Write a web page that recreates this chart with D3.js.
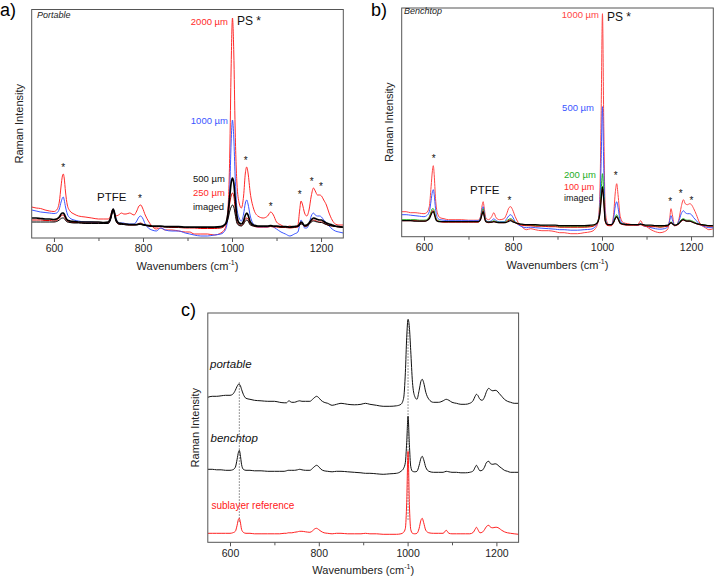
<!DOCTYPE html>
<html><head><meta charset="utf-8">
<script src="https://cdn.jsdelivr.net/npm/d3@7"></script>
<style>
body{margin:0;background:#fff}
svg{display:block}
text{font-family:Arial,"Liberation Sans",Helvetica,sans-serif}
</style>
</head><body>
<svg id="chart" width="715" height="581"></svg>
<script>
// ---------- shared wavenumber grid (cm-1) ----------
const wavenumbers = [
 550,560,570,580,590,600,606,612,616,619,
 621,623,626,630,636,645,655,670,685,700,
 712,722,727,731,733,735,739,745,752,757,
 762,770,780,786,791,795,799,805,812,820,
 830,840,850,865,880,895,905,915,930,945,
 960,975,985,991,995,998,1001,1004,1007,1011,
 1016,1021,1026,1030,1033,1036,1041,1048,1058,1070,
 1080,1087,1093,1100,1110,1120,1130,1140,1148,1152,
 1155,1158,1163,1168,1173,1178,1183,1187,1192,1197,
 1201,1206,1212,1218,1225,1232,1240,1250];

// ---------- panel a: portable ----------
const portable2000 = [
 31,30,29.5,28,27,26.5,28,36,52,62,
 64,60,46,33,27,24,22,21,20,19,
 19,19,22,28,29,27,22,23,25,24,
 24,25,23,27,32,33,30,23,17,12,
 9,10,8,8,7,6,6,4,4,4,
 3,5,10,30,85,170,220,185,110,55,
 35,30,42,65,71,65,45,30,22,20,
 22,26,23,16,13,11,12,11,13,28,
 37,34,25,22,28,42,50,47,43,43,
 42,38,33,25,18,14,13,13];
const portable1000 = [
 28,27,26,25.5,25,24.5,25,29,36,40,
 41,38,31,24,20,18,17,16,16,15,
 15,15,19,27,29,27,20,15,15,15,
 14,14,14,17,21,22,20,14,10,8,
 7,10,8,7,7,5,4,3,2,2,
 3,4,8,22,50,95,118,100,62,30,
 20,17,24,35,38,34,22,14,11,11,
 11,12,11,9,6,4,2,4,6,13,
 18,16,10,10,14,22,25,23,22,22,
 21,18,15,12,9,7,6,5];
const portable500 = [
 20,20,19.5,19,19,18.5,19,21,24,25,
 25,24,21,18,17,16.5,16,16,16,16,
 15.5,16,20,27,29,27,19,15,14.5,14,
 14,13.5,13.5,13.5,14,14,13.5,13,12.5,12,
 12,12,11.5,11.5,11.5,11,11,11,11,11,
 11,11.5,14,25,42,55,60,55,40,22,
 15,14,17,23,25,23,16,13,12,12,
 12,12.5,12,12,11.5,11.5,11,11.5,12,14,
 16,15,12.5,13,15,18,20,19.5,18.5,18,
 18,16.5,15,14,13,12,11.5,11];
const portable250 = [
 18,18,18,17.5,17.5,17,17.5,20,22,23,
 23,22,19,17,16,15.5,15.5,15,15,15,
 15,15,19,26,28,26,18,14,14,14,
 13.5,13,13,13.5,14.5,15,14,13,12,11.5,
 11,11.5,11,10.5,10.5,10,10,10,9.5,9.5,
 9.5,10,13,22,35,42,45,42,30,17,
 13,12.5,15,19,20,19,14,12,11,11,
 11,11.5,11,11,10.5,10.5,10,10.5,11,13,
 15,14,11.5,12,14,17,18,17.5,16.5,16,
 16,15,13.5,12.5,12,11.5,11,10.5];
const portableImaged = [
 16,16,16,16,16,16,16.5,18,19.5,20,
 20,19.5,17.5,16,15.5,15,15,14.5,14.5,14.5,
 14.5,14.5,18,25,27,25,17,14,13.5,13.5,
 13,13,13,13,13.5,13.5,13,12.5,12,11.5,
 11.5,11.5,11,11,11,10.5,10.5,10.5,10.5,10.5,
 10.5,11,13,19,27,31,33,31,24,15,
 12.5,12,14,17,18,17,13,12,11.5,11.5,
 11.5,12,11.5,11.5,11,11,10.5,11,11.5,13,
 14,13.5,12,12,13.5,16,17,16.5,16,15.5,
 15.5,14.5,13.5,12.5,12,11.5,11,10.5];

// ---------- panel b: benchtop ----------
const benchtop1000 = [
 25,25,24,24,23.5,23,24,30,50,66,
 71,62,38,24,19,18,17,17,17,16.5,
 16.5,16.5,20,32,35,30,19,17,20,24,
 19,17,18,23,29,30,27,20,14,10,
 7,8,7,6,6,5,4,4,3,3,
 4,5,8,15,40,120,223,110,30,15,
 12,12,22,45,53,42,20,14,13,12,
 12,16,11,10,7,5,4,5,8,18,
 28,22,11,12,18,30,37,33,32,33,
 32,28,22,15,11,9,7,8];
const benchtop500 = [
 22,22,21.5,21,20.5,20,21,25,36,45,
 47,42,28,19,17,16.5,16,16,16,16,
 16,16,19,28,30,26,17,15,16,18,
 16,15,15,18,21,22,20,15,12,10,
 9,9.5,9,8.5,8,7.5,7,7,6.5,6.5,
 7,7.5,10,16,30,75,130,68,22,13,
 12,12,18,31,35,29,16,13,12,12,
 11.5,13,11,10.5,9,8,7.5,8,10,16,
 21,17,11,12,16,23,26,24,23,23,
 22,19,16,13,11,10,9,9];
const benchtop200 = [
 17,17,17,17,16.5,16.5,17,20,25,28,
 28,26,20,16.5,15.5,15,15,15,15,15,
 15,15,18,26,28,24,16,14.5,15,16,
 15,14.5,14.5,16,17.5,18,17,14.5,13,12,
 11.5,11.5,11,11,10.5,10.5,10,10,10,10,
 10,10.5,12,16,26,45,63,42,18,12.5,
 12,12,15,20,22,19.5,14,12.5,12,12,
 12,12.5,11.5,11,10.5,10.5,10,10.5,11,13,
 15,13.5,11.5,12,14,17,18,17,16.5,16.5,
 16,15,13.5,12.5,12,11.5,11,11];
const benchtop100 = [
 16,16,16,16,15.5,15.5,16,19,23,26,
 26,24,19,16,15,14.5,14.5,14.5,14.5,14.5,
 14.5,14.5,17,24,26,22,15,14,14.5,15,
 14.5,14,14,15,16.5,17,16,14,12.5,11.5,
 11,11,10.5,10.5,10,10,9.5,9.5,9.5,9.5,
 9.5,10,11.5,15,24,38,48,36,16,11.5,
 11,11,14,18.5,20,18,13,12,11.5,11.5,
 11.5,12,11,10.5,10,10,9.5,10,10.5,12.5,
 14,13,11,11.5,13,15.5,16.5,16,15.5,15.5,
 15,14,13,12,11.5,11,10.5,10.5];
const benchtopImaged = [
 16,16,16,15.5,15.5,15.5,16,18,22,24.5,
 25,23,18,15.5,15,15,15,15,15,15,
 15,15,17,23,25,21,15,14.5,14.5,15,
 14.5,14,14,14.5,15.5,16,15,14,13,12.5,
 12,12,12,11.5,11.5,11.5,11,11,11,11,
 11,11.5,12.5,15,22,36,50,35,16,12.5,
 12,12,14.5,18.5,20,18,13.5,12.5,12,12,
 12,12.5,12,11.5,11.5,11,11,11,11.5,13,
 14,13,11.5,12,13.5,16,17,16,15.5,15.5,
 15,14,13,12.5,12,11.5,11,11];

// ---------- panel c: comparison (offset spectra) ----------
const cPortable = [
 145,146,146,146.5,147,147,148,152,156,158,
 158,157,153,148,144,143,142,141.5,141,141,
 140,139.5,139.5,141,141.5,141,140,140,141,141.5,
 141,141,141,143,145,146,145,142,140,139,
 137,138,139,138,137.5,138,139,138,137,136,
 136,136.5,138,144,170,205,223,215,192,160,
 146,143,152,161,163,160,150,143,140,140,
 141.5,143,142,140,139,138,138,139,142,146,
 148,147,143,142,145,151,154,152.5,151.5,152,
 151.5,149,146,143,141,140,139,139];
const cBenchtop = [
 73,73,72.5,72.5,72,72,72.5,75,83,90,
 92,88,78,73,72,72,71.5,71.5,71,71,
 71,71,71.5,72,72,72,72,72,72.5,73,
 72.5,72,72,74,76,77,76,73,71.5,71,
 70.5,71,71,70.5,70,69.5,69,69,68.5,68,
 68.5,69,71,74,80,100,126,98,76,71,
 70.5,71,77,84,86,83,75,71,70,70,
 70,71,70.5,70,70,69.5,69.5,70,71.5,75,
 77,75,71.5,72,75,80,81,78.5,78,78.5,
 78,76,74,72,71,70,70,70];
const cSublayer = [
 9,9,9,9,9,9,9.5,11,17,23,
 24,21,13,10,9,9,8.5,8.5,8.5,8.5,
 8.5,9,9,9.5,9.5,9.5,9.5,10,10.5,11,
 11,10.5,10,11.5,13.5,14,13,11,9.5,9,
 8.5,9,9,8.5,8.5,8.5,9,8.5,8.5,8,
 8,8,8.5,10,14,40,91,38,13,9,
 8.5,9,14,22,24,20,12,9.5,9,9,
 9,12,9,8.5,8.5,8.5,8.5,8.5,10,13,
 15,13,9.5,10,12.5,16,17,15,14.5,15,
 15,14,12,10.5,9.5,9,8.5,8];

// ---------- axis ticks ----------
const xDomain = [550, 1250];
const xTickValues = [600, 700, 800, 900, 1000, 1100, 1200];
const xTickLabels = ["600", "", "800", "", "1000", "", "1200"];

// peak markers (wavenumber, intensity)
const starsA = [[621,73],[793,42],[1031,80],[1087,34],[1152,46],[1179,59],[1200,54]];
const starsB = [[622,80],[792,38],[1031,63],[1153,37],[1177,45],[1201,38]];
const refLinesC = [[621,160,20],[1001,222,22]];

const svg = d3.select("#chart");
const FONT = 'Arial,"Liberation Sans",Helvetica,sans-serif';

function drawPanel(o) {
  const x = d3.scaleLinear().domain(xDomain).range([o.left, o.right]);
  const y = d3.scaleLinear().domain([0, o.ymax]).range([o.bottom, o.top]);
  const g = svg.append("g");
  const cid = "clip" + o.id;
  svg.append("defs").append("clipPath").attr("id", cid)
    .append("rect").attr("x", o.left).attr("y", o.top)
    .attr("width", o.right - o.left).attr("height", o.bottom - o.top);

  (o.refLines || []).forEach(r => {
    g.append("line").attr("x1", x(r[0])).attr("x2", x(r[0]))
      .attr("y1", y(r[1])).attr("y2", y(r[2]))
      .attr("stroke", "#666").attr("stroke-width", 0.9)
      .attr("stroke-dasharray", "1.5,1.5");
  });

  const line = d3.line().x((d, i) => x(wavenumbers[i])).y(d => y(d)).curve(d3.curveMonotoneX);
  const lg = g.append("g").attr("clip-path", `url(#${cid})`);
  o.series.forEach(s => {
    lg.append("path").datum(s.values).attr("d", line)
      .attr("fill", "none").attr("stroke", s.color)
      .attr("stroke-width", s.width || 1).attr("stroke-linejoin", "round");
  });

  g.append("rect").attr("x", o.left).attr("y", o.top)
    .attr("width", o.right - o.left).attr("height", o.bottom - o.top)
    .attr("fill", "none").attr("stroke", "#555").attr("stroke-width", 1);

  const ax = g.append("g").attr("transform", `translate(0,${o.bottom})`)
    .call(d3.axisBottom(x).tickValues(xTickValues)
      .tickFormat((d, i) => xTickLabels[i]).tickSize(4).tickSizeOuter(0).tickPadding(3));
  ax.select(".domain").remove();
  ax.selectAll(".tick line").attr("stroke", "#555")
    .attr("y2", (d, i) => xTickLabels[i] ? 4 : 3);
  ax.selectAll(".tick text").attr("font-size", 10.5).attr("font-family", FONT).attr("fill", "#222");

  const cx = (o.left + o.right) / 2;
  const t = g.append("text").attr("x", cx).attr("y", o.bottom + 32)
    .attr("text-anchor", "middle").attr("font-size", 11).attr("fill", "#222");
  t.append("tspan").text("Wavenumbers (cm");
  t.append("tspan").text("-1").attr("font-size", 7).attr("dy", -5);
  t.append("tspan").text(")").attr("dy", 5);
  g.append("text").attr("transform", `translate(${o.left - 9},${(o.top + o.bottom) / 2}) rotate(-90)`)
    .attr("text-anchor", "middle").attr("font-size", 11).attr("fill", "#222").text("Raman Intensity");

  g.append("text").attr("x", o.letterX).attr("y", o.letterY)
    .attr("font-size", 18).attr("fill", "#000").text(o.letter);

  (o.stars || []).forEach(s => {
    g.append("text").attr("x", x(s[0])).attr("y", y(s[1]) + 5.5)
      .attr("text-anchor", "middle").attr("font-size", 10).attr("fill", "#111").text("*");
  });

  (o.labels || []).forEach(l => {
    g.append("text").attr("x", l.x).attr("y", l.y)
      .attr("text-anchor", l.anchor || "start").attr("font-size", l.size)
      .attr("font-style", l.italic ? "italic" : null)
      .attr("fill", l.color || "#111").text(l.text);
  });
  return {x, y};
}

drawPanel({
  id: "a", left: 31.7, right: 343.3, top: 9.5, bottom: 238, ymax: 228.5,
  letter: "a)", letterX: 0, letterY: 16,
  series: [
    {values: portable2000, color: "#ff2a2a", width: 1},
    {values: portable1000, color: "#3a55ff", width: 1},
    {values: portable250, color: "#d80000", width: 1},
    {values: portableImaged, color: "#000", width: 1},
    {values: portable500, color: "#000", width: 1.7}
  ],
  stars: starsA,
  labels: [
    {text: "Portable", x: 37, y: 18, size: 9, italic: true, color: "#222"},
    {text: "2000 µm", x: 228, y: 25, size: 9.5, anchor: "end", color: "#ff2a2a"},
    {text: "PS *", x: 237, y: 25, size: 12, color: "#111"},
    {text: "1000 µm", x: 228, y: 124, size: 9.5, anchor: "end", color: "#3a55ff"},
    {text: "500 µm", x: 193, y: 182, size: 9.5, color: "#111"},
    {text: "250 µm", x: 193, y: 196, size: 9.5, color: "#ff2a2a"},
    {text: "imaged", x: 193, y: 210, size: 9.5, color: "#111"},
    {text: "PTFE", x: 97, y: 200.5, size: 11.5, color: "#111"}
  ]
});

drawPanel({
  id: "b", left: 401.7, right: 713.3, top: 8, bottom: 236.7, ymax: 228.7,
  letter: "b)", letterX: 371, letterY: 16,
  series: [
    {values: benchtop1000, color: "#ff4545", width: 1},
    {values: benchtop500, color: "#3a55ff", width: 1},
    {values: benchtop200, color: "#1fae1f", width: 1},
    {values: benchtop100, color: "#e00000", width: 1},
    {values: benchtopImaged, color: "#000", width: 1.2}
  ],
  stars: starsB,
  labels: [
    {text: "Benchtop", x: 404, y: 14, size: 9, italic: true, color: "#222"},
    {text: "1000 µm", x: 599, y: 18, size: 9.5, anchor: "end", color: "#ff4545"},
    {text: "PS *", x: 607, y: 21, size: 12, color: "#111"},
    {text: "500 µm", x: 594, y: 111, size: 9.5, anchor: "end", color: "#3a55ff"},
    {text: "200 µm", x: 564, y: 178, size: 9.5, color: "#1fae1f"},
    {text: "100 µm", x: 564, y: 190, size: 9, color: "#ff2a2a"},
    {text: "imaged", x: 564, y: 201, size: 9, color: "#111"},
    {text: "PTFE", x: 470, y: 194, size: 11.5, color: "#111"}
  ]
});

drawPanel({
  id: "c", left: 207.8, right: 518.6, top: 313, bottom: 542.3, ymax: 229.3,
  letter: "c)", letterX: 181, letterY: 316,
  series: [
    {values: cPortable, color: "#111", width: 1},
    {values: cBenchtop, color: "#111", width: 1},
    {values: cSublayer, color: "#ff2020", width: 1}
  ],
  refLines: refLinesC,
  labels: [
    {text: "portable", x: 210, y: 367.5, size: 11.5, italic: true, color: "#111"},
    {text: "benchtop", x: 210.5, y: 441.5, size: 11.5, italic: true, color: "#111"},
    {text: "sublayer reference", x: 211.5, y: 508.5, size: 10, color: "#ff2020"}
  ]
});
</script>
</body></html>
